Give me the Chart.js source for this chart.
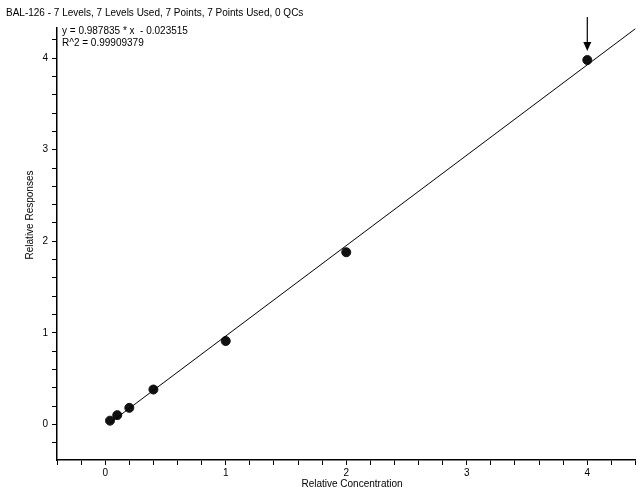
<!DOCTYPE html>
<html>
<head>
<meta charset="utf-8">
<script src="https://cdn.jsdelivr.net/npm/chart.js@4"></script>
<style>
  body { margin: 0; background: #fff; }
  #wrap { width: 641px; height: 489px; }
</style>
</head>
<body>
<div id="wrap"><canvas id="calChart"></canvas></div>
<script>
const concentrations = [0.04, 0.1, 0.2, 0.4, 1, 2, 4];
const responses = [0.04, 0.1, 0.18, 0.38, 0.91, 1.88, 3.98];
const slope = 0.987835;
const intercept = -0.023515;
const fitX = [0.04, 4.4];
const titleText = 'BAL-126 - 7 Levels, 7 Levels Used, 7 Points, 7 Points Used, 0 QCs';
const equationLines = ['y = 0.987835 * x  - 0.023515', 'R^2 = 0.99909379'];
const arrowAt = { x: 4, yFrom: 4.45, yTo: 4.08 };

const FONT = '"Liberation Sans Narrow", "Arial Narrow", "Liberation Sans", sans-serif';

const textPlugin = {
    id: 'texts',
    afterDraw(chart) {
        const ctx = chart.ctx;
        const xs = chart.scales.x, ys = chart.scales.y;
        ctx.save();
        ctx.fillStyle = '#000';
        ctx.font = '10px ' + FONT;
        ctx.textBaseline = 'middle';
        ctx.fillText(titleText, 6, 13);
        ctx.fillText(equationLines[0], 62, 31);
        ctx.fillText(equationLines[1], 62, 43);
        ctx.textAlign = 'center';
        ctx.fillText('Relative Concentration', 352, 484);
        ctx.translate(30, 215);
        ctx.rotate(-Math.PI / 2);
        ctx.fillText('Relative Responses', 0, 0);
        ctx.restore();

        // arrow over the flagged point
        const ax = xs.getPixelForValue(arrowAt.x);
        const y1 = ys.getPixelForValue(arrowAt.yFrom);
        const y2 = ys.getPixelForValue(arrowAt.yTo);
        ctx.save();
        ctx.strokeStyle = '#000';
        ctx.fillStyle = '#000';
        ctx.lineWidth = 1.2;
        ctx.beginPath();
        ctx.moveTo(ax, y1);
        ctx.lineTo(ax, y2 - 6);
        ctx.stroke();
        ctx.beginPath();
        ctx.moveTo(ax - 4, y2 - 9);
        ctx.lineTo(ax + 4, y2 - 9);
        ctx.lineTo(ax, y2);
        ctx.closePath();
        ctx.fill();
        ctx.restore();
    }
};

function ticksEvery(step, from, to) {
    const out = [];
    for (let v = from; v <= to + 1e-9; v += step) out.push({ value: Math.round(v * 100) / 100 });
    return out;
}

new Chart(document.getElementById('calChart'), {
    type: 'scatter',
    data: {
        datasets: [
            {
                type: 'line',
                data: fitX.map(x => ({ x: x, y: slope * x + intercept })),
                borderColor: '#000',
                borderWidth: 1,
                pointRadius: 0,
                fill: false
            },
            {
                data: concentrations.map((c, i) => ({ x: c, y: responses[i] })),
                backgroundColor: '#111',
                borderColor: '#111',
                pointRadius: 4.5
            }
        ]
    },
    options: {
        responsive: true,
        maintainAspectRatio: false,
        animation: false,
        layout: { padding: { top: 28, right: 1, left: 0, bottom: 0 } },
        plugins: { legend: { display: false }, tooltip: { enabled: false } },
        scales: {
            x: {
                type: 'linear', min: -0.4, max: 4.4,
                afterBuildTicks: s => { s.ticks = ticksEvery(0.2, -0.4, 4.4); },
                afterFit: s => { s.height = 29; },
                border: { color: '#000', width: 1.5 },
                grid: { drawOnChartArea: false, color: '#000', tickLength: 5 },
                ticks: {
                    color: '#000', font: { size: 10, family: FONT }, padding: 2, maxRotation: 0,
                    autoSkip: false,
                    callback: v => Number.isInteger(Math.round(v * 100) / 100) ? String(Math.round(v)) : ''
                }
            },
            y: {
                type: 'linear', min: -0.39, max: 4.33,
                afterBuildTicks: s => { s.ticks = ticksEvery(0.2, -0.2, 4.2); },
                afterFit: s => { s.width = 57; },
                border: { color: '#000', width: 1.5 },
                grid: { drawOnChartArea: false, color: '#000', tickLength: 5 },
                ticks: {
                    color: '#000', font: { size: 10, family: FONT }, padding: 4, autoSkip: false,
                    callback: v => Number.isInteger(Math.round(v * 100) / 100) ? String(Math.round(v)) : ''
                }
            }
        }
    },
    plugins: [textPlugin]
});
</script>
</body>
</html>
